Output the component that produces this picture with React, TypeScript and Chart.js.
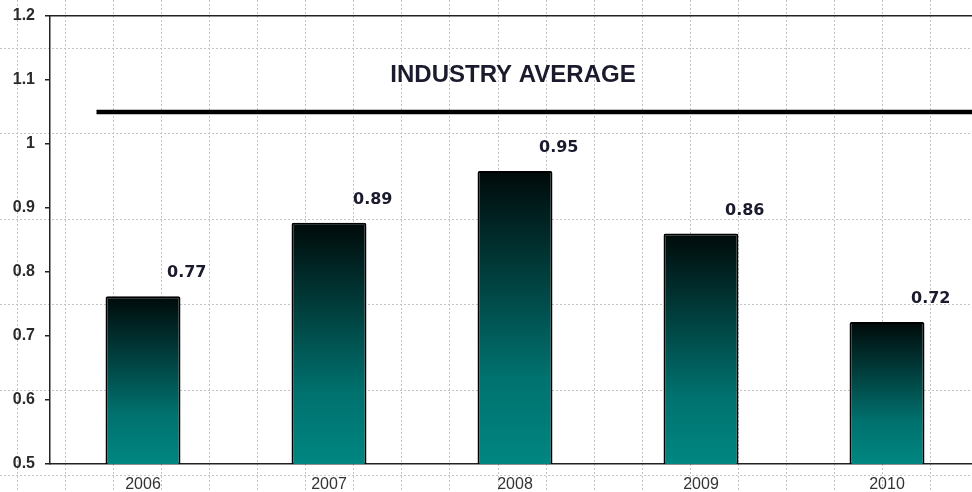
import { useEffect, useRef } from "react";
import { Chart, registerables } from "chart.js";

Chart.register(...registerables);

// ---- data ----
const categories = ["2006", "2007", "2008", "2009", "2010"];
const ratioValues = [0.762, 0.877, 0.958, 0.86, 0.722];
const ratioLabels = ["0.77", "0.89", "0.95", "0.86", "0.72"];
const yTicks = [0.5, 0.6, 0.7, 0.8, 0.9, 1, 1.1, 1.2];
const industryAverage = 1.05;
const industrySpan = [-0.25, 4.5]; // in category-index units
const industryText = "INDUSTRY AVERAGE";

const backgroundGrid = {
  id: "backgroundGrid",
  beforeDraw(chart: any) {
    const { ctx, width, height } = chart;
    ctx.save();
    ctx.fillStyle = "#ffffff";
    ctx.fillRect(0, 0, width, height);
    ctx.strokeStyle = "#c4c4c4";
    ctx.lineWidth = 1;
    ctx.setLineDash([2, 2]);
    ctx.beginPath();
    for (let x = 17; x < width; x += 48.05) {
      const px = Math.round(x) + 0.5;
      ctx.moveTo(px, 0);
      ctx.lineTo(px, height);
    }
    for (let y = 48; y < height; y += 85.4) {
      const py = Math.round(y) + 0.5;
      ctx.moveTo(0, py);
      ctx.lineTo(width, py);
    }
    ctx.stroke();
    ctx.restore();
  },
};

const textLabels = {
  id: "textLabels",
  afterDatasetsDraw(chart: any) {
    const { ctx } = chart;
    const meta = chart.getDatasetMeta(0);
    ctx.save();
    ctx.fillStyle = "#1b1b2e";
    ctx.font = 'bold 16px "DejaVu Sans"';
    ctx.textAlign = "left";
    ctx.textBaseline = "alphabetic";
    meta.data.forEach((bar: any, i: number) => {
      ctx.fillText(ratioLabels[i], bar.x + 24, bar.y - 19);
    });
    const xs = chart.scales.x;
    const ys = chart.scales.y;
    ctx.font = 'bold 24px "Liberation Sans", Arial, sans-serif';
    ctx.textAlign = "center";
    ctx.fillText(industryText, xs.getPixelForValue(2) - 2, ys.getPixelForValue(industryAverage) - 30);
    ctx.restore();
  },
};

export default function App() {
  const ref = useRef<HTMLCanvasElement | null>(null);

  useEffect(() => {
    if (!ref.current) return;
    const chart = new Chart(ref.current, {
      type: "bar",
      data: {
        labels: categories,
        datasets: [
          {
            type: "bar",
            data: ratioValues,
            xAxisID: "x",
            yAxisID: "y",
            grouped: false,
            barPercentage: 0.403,
            categoryPercentage: 1,
            borderColor: "#000000",
            borderWidth: 2,
            borderRadius: 2,
            borderSkipped: false,
            backgroundColor: (c: any) => {
              const ch = c.chart;
              const ys = ch.scales && ch.scales.y;
              if (!ys || c.type !== "data" || !ch.chartArea) return "#008080";
              const top = ys.getPixelForValue(c.raw as number);
              const bottom = ys.getPixelForValue(ys.min);
              const g = ch.ctx.createLinearGradient(0, top, 0, bottom);
              g.addColorStop(0, "#000a0a");
              g.addColorStop(0.7, "#00716e");
              g.addColorStop(1, "#008681");
              return g;
            },
          } as any,
          {
            type: "line",
            data: industrySpan.map((x) => ({ x, y: industryAverage })),
            xAxisID: "x2",
            yAxisID: "y",
            borderColor: "#000000",
            borderWidth: 4.5,
            borderCapStyle: "butt",
            pointRadius: 0,
            fill: false,
          } as any,
        ],
      },
      options: {
        responsive: false,
        animation: false,
        devicePixelRatio: 1,
        layout: { padding: { top: 16, left: 0, right: 0, bottom: 0 } },
        plugins: {
          legend: { display: false },
          tooltip: { enabled: false },
          title: { display: false },
        },
        scales: {
          x: {
            type: "category",
            offset: true,
            grid: { display: false, drawTicks: false },
            border: { display: true, color: "#222222", width: 1.5 },
            ticks: {
              padding: 11,
              color: "#333333",
              font: { family: '"Liberation Sans", Arial, sans-serif', size: 16 },
            },
            afterFit: (s: any) => {
              s.height = 28;
              s.paddingLeft = 0;
              s.paddingRight = 0;
            },
          },
          x2: {
            type: "linear",
            position: "top",
            offset: false,
            min: -0.5,
            max: 4.5,
            grid: { display: false, drawTicks: false, offset: false },
            border: { display: true, color: "#222222", width: 1.5 },
            ticks: { display: false },
            afterFit: (s: any) => {
              s.height = 0;
              s.paddingLeft = 0;
              s.paddingRight = 0;
            },
          },
          y: {
            type: "linear",
            min: 0.5,
            max: 1.2,
            afterBuildTicks: (s: any) => {
              s.ticks = yTicks.map((v) => ({ value: v }));
            },
            afterFit: (s: any) => {
              s.width = 50;
              s.paddingTop = 0;
              s.paddingBottom = 0;
            },
            grid: {
              drawOnChartArea: false,
              drawTicks: true,
              tickLength: 5,
              color: "#222222",
              lineWidth: 1.5,
            },
            border: { display: true, color: "#222222", width: 1.5 },
            ticks: {
              padding: 10,
              color: "#2a2a2a",
              font: { family: '"Liberation Sans", Arial, sans-serif', size: 16, weight: "bold" },
              callback: (v: any) => String(v),
            },
          },
        },
      } as any,
      plugins: [backgroundGrid, textLabels],
    });
    return () => chart.destroy();
  }, []);

  return (
    <div
      style={{
        position: "absolute",
        left: 0,
        top: 0,
        width: 972,
        height: 492,
        overflow: "hidden",
        background: "#fff",
      }}
    >
      <canvas ref={ref} width={980} height={492} style={{ display: "block" }} />
    </div>
  );
}
